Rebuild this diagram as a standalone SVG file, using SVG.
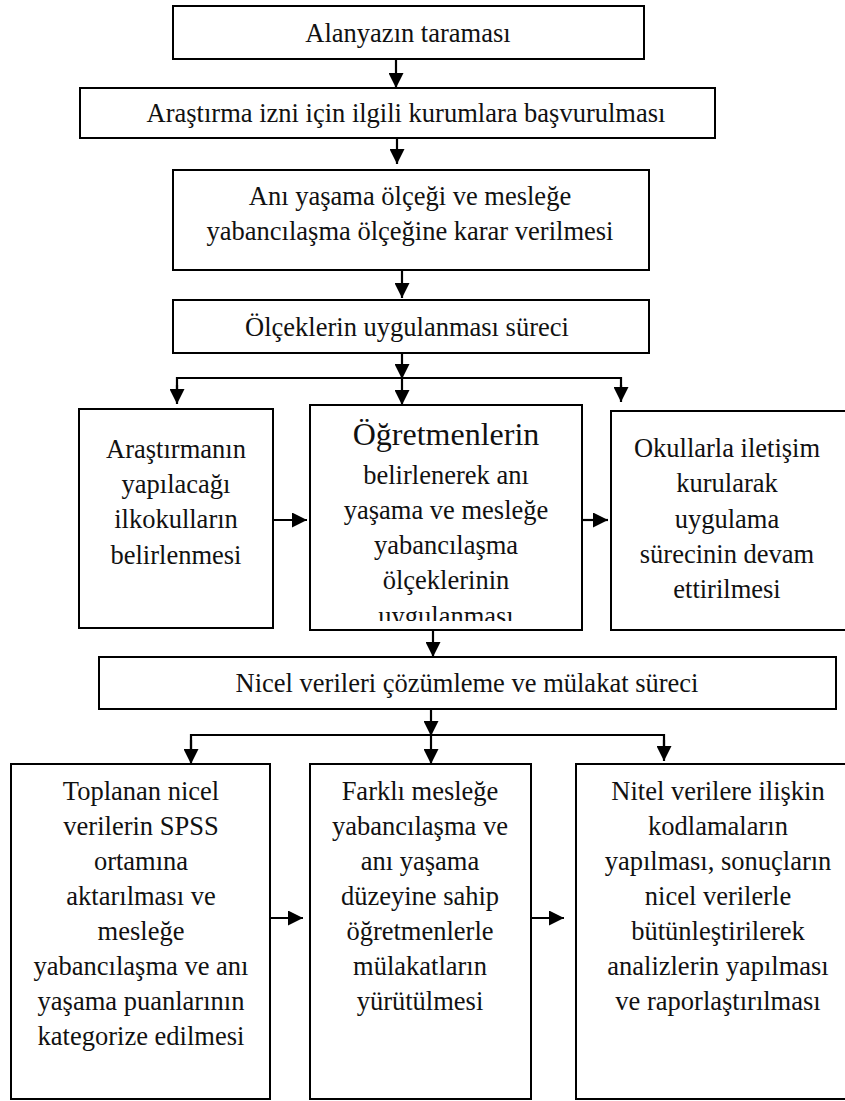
<svg xmlns="http://www.w3.org/2000/svg" width="845" height="1101" viewBox="0 0 845 1101" font-family="'Liberation Serif', Tinos, 'Times New Roman', 'DejaVu Serif', serif">
<style>
  rect.box { fill: #fff; stroke: #000; stroke-width: 2; }
  text { font-family: "Liberation Serif", Tinos, "Times New Roman", "DejaVu Serif", serif; font-size: 26.5px; fill: #111; text-anchor: middle; }
  .big { font-size: 32px; }
  .ln { stroke: #000; stroke-width: 2.2; fill: none; }
  .ah { fill: #000; }
</style>
<defs>
  <marker id="arr" viewBox="0 0 15 15" refX="15" refY="7.5" markerWidth="15" markerHeight="15" markerUnits="userSpaceOnUse" orient="auto">
    <path d="M0,0 L15,7.5 L0,15 Z" class="ah"/>
  </marker>
  <clipPath id="clipMid"><rect x="310" y="405" width="272" height="216"/></clipPath>
</defs>
<rect width="845" height="1101" fill="#fff"/>

<g id="connectors">
  <line class="ln" x1="396" y1="59" x2="396" y2="88" marker-end="url(#arr)"/>
  <line class="ln" x1="397" y1="138" x2="397" y2="164" marker-end="url(#arr)"/>
  <line class="ln" x1="402" y1="270" x2="402" y2="298" marker-end="url(#arr)"/>
  <line class="ln" x1="402" y1="353" x2="402" y2="379" marker-end="url(#arr)"/>
  <polyline class="ln" points="177,392 177,378 621,378 621,392"/>
  <line class="ln" x1="177" y1="385" x2="177" y2="404" marker-end="url(#arr)"/>
  <line class="ln" x1="402" y1="378" x2="402" y2="405" marker-end="url(#arr)"/>
  <line class="ln" x1="621" y1="385" x2="621" y2="402" marker-end="url(#arr)"/>
  <line class="ln" x1="273" y1="520" x2="307" y2="520" marker-end="url(#arr)"/>
  <line class="ln" x1="582" y1="520" x2="608" y2="520" marker-end="url(#arr)"/>
  <line class="ln" x1="433" y1="630" x2="433" y2="657" marker-end="url(#arr)"/>
  <line class="ln" x1="431" y1="709" x2="431" y2="736" marker-end="url(#arr)"/>
  <polyline class="ln" points="191,750 191,735 664,735 664,750"/>
  <line class="ln" x1="191" y1="740" x2="191" y2="764" marker-end="url(#arr)"/>
  <line class="ln" x1="431" y1="735" x2="431" y2="764" marker-end="url(#arr)"/>
  <line class="ln" x1="664" y1="740" x2="664" y2="761" marker-end="url(#arr)"/>
  <line class="ln" x1="270" y1="918" x2="303" y2="918" marker-end="url(#arr)"/>
  <line class="ln" x1="531" y1="918" x2="564" y2="918" marker-end="url(#arr)"/>
</g>

<g id="n1">
  <rect class="box" x="173" y="6" width="471" height="53"/>
  <text x="408" y="42">Alanyazın taraması</text>
</g>
<g id="n2">
  <rect class="box" x="80" y="88" width="635" height="50"/>
  <text x="406" y="122">Araştırma izni için ilgili kurumlara başvurulması</text>
</g>
<g id="n3">
  <rect class="box" x="173" y="170" width="476" height="100"/>
  <text x="410" y="205">Anı yaşama ölçeği ve mesleğe</text>
  <text x="410" y="240">yabancılaşma ölçeğine karar verilmesi</text>
</g>
<g id="n4">
  <rect class="box" x="173" y="300" width="476" height="53"/>
  <text x="407" y="336">Ölçeklerin uygulanması süreci</text>
</g>
<g id="n5">
  <rect class="box" x="79" y="409" width="194" height="219"/>
  <text x="176" y="458">Araştırmanın</text>
  <text x="176" y="493">yapılacağı</text>
  <text x="176" y="528">ilkokulların</text>
  <text x="176" y="564">belirlenmesi</text>
</g>
<g id="n6">
  <rect class="box" x="310" y="405" width="272" height="225"/>
  <g clip-path="url(#clipMid)">
    <text class="big" x="446" y="445">Öğretmenlerin</text>
    <text x="446" y="484">belirlenerek anı</text>
    <text x="446" y="519">yaşama ve mesleğe</text>
    <text x="446" y="554">yabancılaşma</text>
    <text x="446" y="589">ölçeklerinin</text>
    <text x="446" y="625">uygulanması</text>
  </g>
</g>
<g id="n7">
  <rect class="box" x="611" y="411" width="236" height="219"/>
  <text x="727" y="457">Okullarla iletişim</text>
  <text x="727" y="492">kurularak</text>
  <text x="727" y="528">uygulama</text>
  <text x="727" y="563">sürecinin devam</text>
  <text x="727" y="598">ettirilmesi</text>
</g>
<g id="n8">
  <rect class="box" x="99" y="657" width="737" height="52"/>
  <text x="467" y="692">Nicel verileri çözümleme ve mülakat süreci</text>
</g>
<g id="n9">
  <rect class="box" x="11" y="764" width="259" height="335"/>
  <text x="141" y="800">Toplanan nicel</text>
  <text x="141" y="835">verilerin SPSS</text>
  <text x="141" y="870">ortamına</text>
  <text x="141" y="905">aktarılması ve</text>
  <text x="141" y="940">mesleğe</text>
  <text x="141" y="975">yabancılaşma ve anı</text>
  <text x="141" y="1010">yaşama puanlarının</text>
  <text x="141" y="1045">kategorize edilmesi</text>
</g>
<g id="n10">
  <rect class="box" x="310" y="764" width="221" height="335"/>
  <text x="420" y="800">Farklı mesleğe</text>
  <text x="420" y="835">yabancılaşma ve</text>
  <text x="420" y="870">anı yaşama</text>
  <text x="420" y="905">düzeyine sahip</text>
  <text x="420" y="940">öğretmenlerle</text>
  <text x="420" y="975">mülakatların</text>
  <text x="420" y="1010">yürütülmesi</text>
</g>
<g id="n11">
  <rect class="box" x="576" y="764" width="271" height="335"/>
  <text x="718" y="800">Nitel verilere ilişkin</text>
  <text x="718" y="835">kodlamaların</text>
  <text x="718" y="870">yapılması, sonuçların</text>
  <text x="718" y="905">nicel verilerle</text>
  <text x="718" y="940">bütünleştirilerek</text>
  <text x="718" y="975">analizlerin yapılması</text>
  <text x="718" y="1010">ve raporlaştırılması</text>
</g>
</svg>
